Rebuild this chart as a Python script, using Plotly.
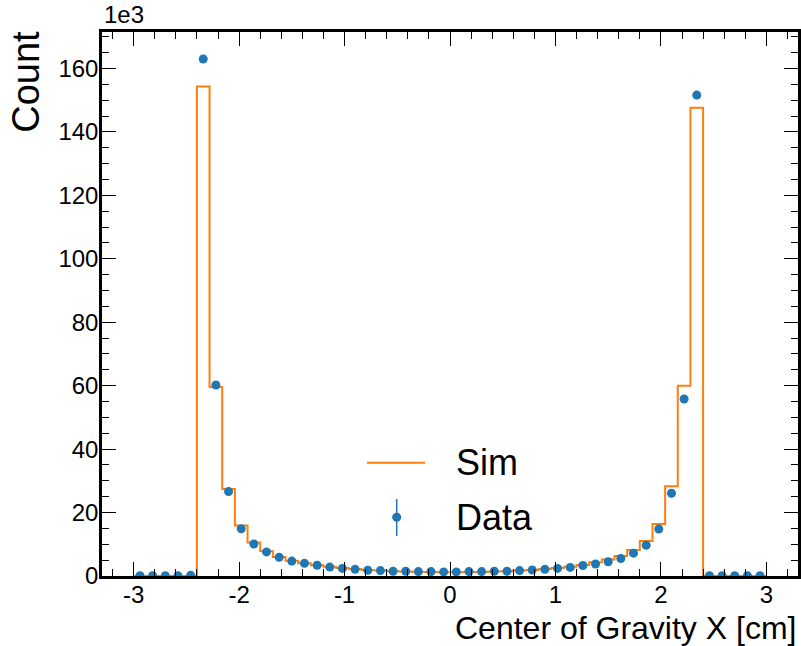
import numpy as np
import plotly.graph_objects as go

# Histogram binning: 50 bins from -3 to 3 cm
bin_edges = np.round(np.linspace(-3.0, 3.0, 51), 3)
bin_centers = np.round(0.5 * (bin_edges[:-1] + bin_edges[1:]), 3)

# Counts in units of 1e3
data_counts = [
    0.1, 0.1, 0.1, 0.1, 0.2,
    163.0, 60.2, 26.6, 14.9, 10.1,
    7.6, 5.9, 4.7, 4.0, 3.4,
    2.8, 2.4, 2.1, 1.8, 1.7,
    1.5, 1.5, 1.4, 1.4, 1.3,
    1.3, 1.4, 1.4, 1.5, 1.5,
    1.7, 1.9, 2.1, 2.4, 2.7,
    3.3, 3.8, 4.5, 5.5, 7.2,
    9.7, 14.8, 26.1, 55.8, 151.6,
    0.1, 0.1, 0.1, 0.1, 0.1,
]
sim_counts = [
    0.0, 0.0, 0.0, 0.0, 0.0,
    154.3, 59.6, 27.4, 15.9, 10.6,
    7.9, 6.0, 4.8, 4.0, 3.4,
    2.9, 2.5, 2.2, 1.9, 1.7,
    1.5, 1.4, 1.3, 1.3, 1.2,
    1.2, 1.3, 1.3, 1.4, 1.5,
    1.7, 1.9, 2.2, 2.5, 2.9,
    3.5, 4.3, 5.2, 6.3, 8.2,
    11.0, 16.4, 28.3, 60.0, 147.6,
    0.0, 0.0, 0.0, 0.0, 0.0,
]
data_err = [np.sqrt(v * 1000.0) / 1000.0 for v in data_counts]

x_ticks = [-3, -2, -1, 0, 1, 2, 3]
x_tick_labels = ["-3", "-2", "-1", "0", "1", "2", "3"]
y_ticks = [0, 20, 40, 60, 80, 100, 120, 140, 160]
y_tick_labels = ["0", "20", "40", "60", "80", "100", "120", "140", "160"]

BLUE = "#1f77b4"
ORANGE = "#ff7f0e"
FONT = "Liberation Sans, Arial, sans-serif"

fig = go.Figure()
fig.add_trace(go.Scatter(
    x=list(bin_edges), y=sim_counts + [sim_counts[-1]],
    mode="lines", line=dict(color=ORANGE, width=2, shape="hv"),
    name="Sim", showlegend=False,
))
fig.add_trace(go.Scatter(
    x=list(bin_centers), y=data_counts, mode="markers",
    marker=dict(color=BLUE, size=9),
    error_y=dict(type="data", array=data_err, color=BLUE, thickness=1.5, width=0),
    name="Data", showlegend=False,
))

axis_common = dict(
    showline=True, linecolor="black", linewidth=2.5, mirror="allticks",
    ticks="inside", ticklen=14, tickwidth=1.2, tickcolor="black",
    showgrid=False, zeroline=False,
    tickfont=dict(family=FONT, size=24, color="black"),
)
fig.update_xaxes(
    range=[-3.3, 3.3], tickvals=x_ticks, ticktext=x_tick_labels, ticklabelstandoff=-5,
    minor=dict(ticks="inside", ticklen=7, tickwidth=1.2, tickcolor="black", dtick=0.2, tick0=0, showgrid=False),
    **axis_common,
)
fig.update_yaxes(
    range=[0, 171.5], tickvals=y_ticks, ticktext=y_tick_labels, ticklabelstandoff=-4,
    minor=dict(ticks="inside", ticklen=7, tickwidth=1.2, tickcolor="black", dtick=5, tick0=0, showgrid=False),
    **axis_common,
)

W, H = 801, 646
L, R, T, B = 102, 3, 32, 70
pw, ph = W - L - R, H - T - B

def px(xp):
    return (xp - L) / pw

def py(yp):
    return (H - B - yp) / ph

annotations = [
    dict(text="Center of Gravity X [cm]", x=1, xanchor="right", y=py(628), yanchor="middle",
         font=dict(family=FONT, size=32, color="black")),
    dict(text="Count", x=px(26), xanchor="center", y=1.006, yanchor="top", textangle=-90,
         font=dict(family=FONT, size=38, color="black")),
    dict(text="1e3", x=0, xanchor="left", y=1, yanchor="bottom", yshift=2,
         font=dict(family=FONT, size=24, color="black")),
    dict(text="Sim", x=px(454), xanchor="left", y=py(462.7), yanchor="middle",
         font=dict(family=FONT, size=36, color="black")),
    dict(text="Data", x=px(454), xanchor="left", y=py(517.3), yanchor="middle",
         font=dict(family=FONT, size=36, color="black")),
]
for a in annotations:
    a.update(xref="paper", yref="paper", showarrow=False)

r = 4.5
shapes = [
    dict(type="line", xref="paper", yref="paper", x0=px(367), x1=px(425), y0=py(462.7), y1=py(462.7),
         line=dict(color=ORANGE, width=2)),
    dict(type="line", xref="paper", yref="paper", x0=px(396.7), x1=px(396.7), y0=py(499), y1=py(536),
         line=dict(color=BLUE, width=1.5)),
    dict(type="circle", xref="paper", yref="paper", x0=px(396.7 - r), x1=px(396.7 + r),
         y0=py(517.3 + r), y1=py(517.3 - r), fillcolor=BLUE, line=dict(color=BLUE, width=0)),
]

fig.update_layout(
    width=W, height=H, margin=dict(l=L, r=R, t=T, b=B, autoexpand=False),
    paper_bgcolor="white", plot_bgcolor="white",
    annotations=annotations, shapes=shapes, showlegend=False,
    font=dict(family=FONT, color="black"),
)

fig.write_html("out.html")
